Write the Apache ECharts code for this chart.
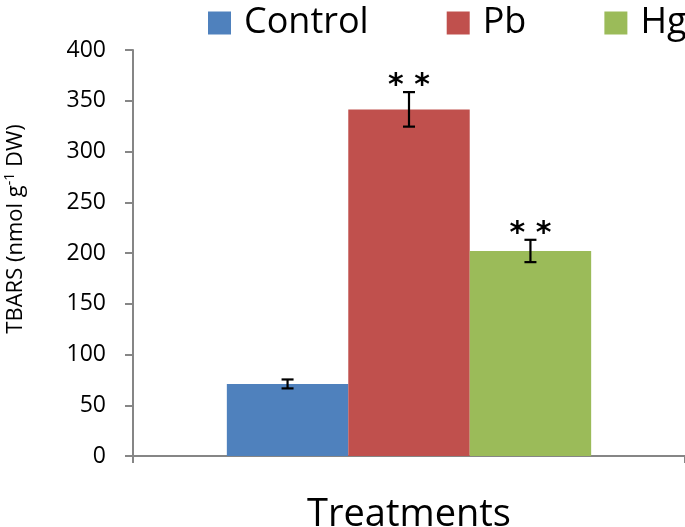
<!DOCTYPE html>
<html>
<head>
<meta charset="utf-8">
<script src="https://cdn.jsdelivr.net/npm/echarts@6/dist/echarts.min.js"></script>
<style>html,body{margin:0;padding:0;background:#fff}#c{width:685px;height:527px}</style>
</head>
<body>
<div id="c"></div>
<script>
var categories = ['Treatments'];
var seriesNames = ['Control', 'Pb', 'Hg'];
var values = [71, 341.5, 202];
var errors = [4.4, 17, 11];
var signif = ['', '* *', '* *'];
var colors = ['#4F81BD', '#C0504D', '#9BBB59'];
var yTicks = [0, 50, 100, 150, 200, 250, 300, 350, 400];

var FONT = 'Open Sans';
var CAT_GAP = 0.34;

var chart = echarts.init(document.getElementById('c'));

var series = seriesNames.map(function (n, i) {
  return {
    name: n,
    type: 'bar',
    data: [values[i]],
    barGap: '0%',
    barCategoryGap: (CAT_GAP * 100) + '%',
    itemStyle: { color: colors[i] },
    emphasis: { disabled: true },
    z: 2
  };
});

series.push({
  name: 'err',
  type: 'custom',
  data: values.map(function (v, i) { return [0, v]; }),
  z: 5,
  renderItem: function (params, api) {
    var i = params.dataIndex;
    var band = api.size([1, 0])[0];
    var barW = band * (1 - CAT_GAP) / 3;
    var c = api.coord([0, values[i]]);
    var x = c[0] + (i - 1) * barW;
    var yTop = api.coord([0, values[i] + errors[i]])[1];
    var yBot = api.coord([0, values[i] - errors[i]])[1];
    var half = 6;
    var st = { stroke: '#000', lineWidth: 2.2 };
    var children = [
      { type: 'line', shape: { x1: x, y1: yTop, x2: x, y2: yBot }, style: st },
      { type: 'line', shape: { x1: x - half, y1: yTop, x2: x + half, y2: yTop }, style: st },
      { type: 'line', shape: { x1: x - half, y1: yBot, x2: x + half, y2: yBot }, style: st }
    ];
    if (signif[i]) {
      children.push({
        type: 'text',
        style: {
          text: signif[i], x: x, y: yTop - 6,
          fill: '#000', font: 'bold 30px "DejaVu Sans"',
          textAlign: 'center', textVerticalAlign: 'middle'
        }
      });
    }
    return { type: 'group', children: children };
  }
});

chart.setOption({
  animation: false,
  backgroundColor: '#fff',
  textStyle: { fontFamily: FONT },
  legend: {
    data: seriesNames,
    left: 203,
    top: 0,
    width: 520,
    orient: 'horizontal',
    icon: 'rect',
    itemWidth: 23,
    itemHeight: 23,
    itemGap: 78,
    selectedMode: false,
    textStyle: { fontSize: 36, color: '#000', fontFamily: FONT, padding: [0, 0, 0, 8] }
  },
  graphic: [{
    type: 'text',
    x: 16,
    y: 229,
    rotation: Math.PI / 2,
    style: {
      text: '{a|TBARS (nmol g}{s|-1}{a| DW)}',
      textAlign: 'center',
      textVerticalAlign: 'middle',
      rich: {
        a: { fontSize: 22, fontFamily: FONT, fill: '#000', color: '#000' },
        s: { fontSize: 14, fontFamily: FONT, fill: '#000', color: '#000', padding: [0, 0, 12, 0] }
      }
    }
  }],
  grid: { left: 133, right: 0, top: 50, bottom: 71, containLabel: false, outerBoundsMode: 'none' },
  xAxis: {
    type: 'category',
    data: categories,
    name: 'Treatments',
    nameLocation: 'middle',
    nameGap: 40,
    nameTextStyle: { fontSize: 38, color: '#000', fontFamily: FONT },
    axisLine: { lineStyle: { color: '#868686', width: 2 } },
    axisTick: { show: true, length: 7, lineStyle: { color: '#868686', width: 2 } },
    axisLabel: { show: false }
  },
  yAxis: {
    type: 'value',
    min: 0,
    max: 400,
    interval: 50,
    axisLine: { show: true, lineStyle: { color: '#868686', width: 2 } },
    axisTick: { show: true, length: 8, lineStyle: { color: '#868686', width: 2 } },
    splitLine: { show: false },
    axisLabel: {
      fontSize: 23, color: '#000', margin: 27, fontFamily: FONT,
      formatter: function (v) { return yTicks.indexOf(v) >= 0 ? String(v) : ''; }
    }
  },
  series: series
});
</script>
</body>
</html>
